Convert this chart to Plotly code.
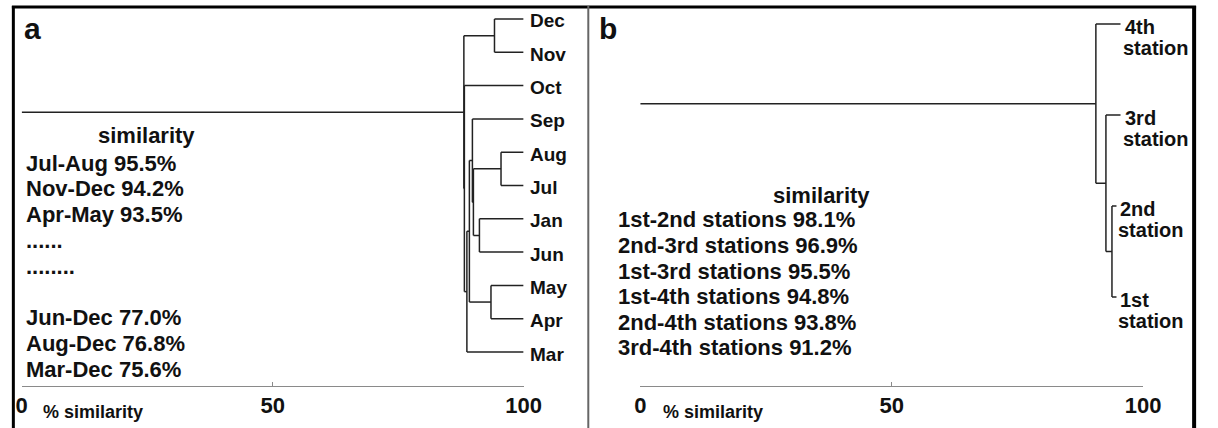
import plotly.graph_objects as go

# ---------------- data ----------------
months = ["Dec", "Nov", "Oct", "Sep", "Aug", "Jul", "Jan", "Jun", "May", "Apr", "Mar"]
# binary merges (child, child, % similarity); "mK" = result of K-th merge
month_merges = [
    ("Aug", "Jul", 95.5),   # m0
    ("Dec", "Nov", 94.2),   # m1
    ("May", "Apr", 93.5),   # m2
    ("Jan", "Jun", 91.2),   # m3
    ("m0", "m3", 90.0),     # m4
    ("Sep", "m4", 89.8),    # m5
    ("m5", "m2", 89.2),     # m6
    ("m6", "Mar", 88.7),    # m7
    ("Oct", "m7", 88.2),    # m8
    ("m1", "m8", 88.1),     # m9 (root)
]
month_leaf_end = [100.0] * len(months)

stations = ["4th station", "3rd station", "2nd station", "1st station"]
station_merges = [
    ("2nd station", "1st station", 93.8),  # m0
    ("3rd station", "m0", 92.6),           # m1
    ("4th station", "m1", 90.6),           # m2 (root)
]
station_leaf_end = [95.5, 95.5, 94.7, 94.7]

month_pairs = ["Jul-Aug", "Nov-Dec", "Apr-May", "......", "........", "", "Jun-Dec", "Aug-Dec", "Mar-Dec"]
month_pair_sim = [95.5, 94.2, 93.5, None, None, None, 77.0, 76.8, 75.6]

station_pairs = ["1st-2nd", "2nd-3rd", "1st-3rd", "1st-4th", "2nd-4th", "3rd-4th"]
station_pair_sim = [98.1, 96.9, 95.5, 94.8, 93.8, 91.2]

axis_ticks = [0, 50, 100]
panel_letters = ["a", "b"]

# ---------------- layout helpers ----------------
W, H = 1218, 428
FONT = "Arial, Liberation Sans, Helvetica, sans-serif"


def px(xp):
    return xp / W


def py(yp):
    return 1 - yp / H


def font(size):
    return dict(family=FONT, color="#111", weight="bold", size=size)


def dendro(leaves, merges, leaf_end):
    pos = {name: (float(i), leaf_end[i]) for i, name in enumerate(leaves)}
    xs, ys = [], []
    for k, (a, b, s) in enumerate(merges):
        ya, xa = pos[a]
        yb, xb = pos[b]
        xs += [xa, s, None, xb, s, None, s, s, None]
        ys += [ya, ya, None, yb, yb, None, ya, yb, None]
        pos["m%d" % k] = ((ya + yb) / 2.0, s)
    ry, rs = pos["m%d" % (len(merges) - 1)]
    xs += [0, rs, None]
    ys += [ry, ry, None]
    return xs, ys


plot_top, plot_bot = 6, 386
# panel a geometry (pixels)
a_x0, a_x1 = 16, 528
a_leaf0, a_step = 19, 33.3
# panel b geometry (pixels)
b_x0, b_x1 = 647, 1160
b_leaf0, b_step = 24, 91.0


def yrange(leaf0, step):
    return [(plot_bot - leaf0) / step, (plot_top - leaf0) / step]


fig = go.Figure()

ax, ay = dendro(months, month_merges, month_leaf_end)
fig.add_trace(go.Scatter(x=ax, y=ay, mode="lines", line=dict(color="#222", width=1.5),
                         hoverinfo="skip", showlegend=False, xaxis="x", yaxis="y",
                         cliponaxis=False))
bx, by = dendro(stations, station_merges, station_leaf_end)
fig.add_trace(go.Scatter(x=bx, y=by, mode="lines", line=dict(color="#222", width=1.5),
                         hoverinfo="skip", showlegend=False, xaxis="x2", yaxis="y2",
                         cliponaxis=False))

xaxis_common = dict(range=[0, 100], showline=True, linecolor="#8a8a8a", linewidth=1,
                    ticks="inside", ticklen=4, tickcolor="#8a8a8a", tickvals=axis_ticks,
                    ticktext=[str(t) for t in axis_ticks], tickfont=font(22),
                    showgrid=False, zeroline=False, fixedrange=True)
ydom = [py(plot_bot), py(plot_top)]

fig.update_layout(
    width=W, height=H, margin=dict(l=0, r=0, t=0, b=0),
    paper_bgcolor="white", plot_bgcolor="white",
    xaxis=dict(domain=[px(a_x0), px(a_x1)], anchor="y", **xaxis_common),
    yaxis=dict(domain=ydom, range=yrange(a_leaf0, a_step), visible=False, anchor="x"),
    xaxis2=dict(domain=[px(b_x0), px(b_x1)], anchor="y2", **xaxis_common),
    yaxis2=dict(domain=ydom, range=yrange(b_leaf0, b_step), visible=False, anchor="x2"),
    showlegend=False,
)

ann = []
# leaf labels panel a
for i, m in enumerate(months):
    ann.append(dict(x=month_leaf_end[i], y=i, xref="x", yref="y", text=m, showarrow=False,
                    xanchor="left", yanchor="middle", xshift=4, yshift=-2, font=font(19)))
# leaf labels panel b (two stacked lines)
for i, s in enumerate(stations):
    first, second = s.split(" ", 1)
    ann.append(dict(x=station_leaf_end[i], y=i, xref="x2", yref="y2", text=first, showarrow=False,
                    xanchor="left", yanchor="middle", xshift=2, yshift=-3, font=font(20)))
    ann.append(dict(x=station_leaf_end[i], y=i, xref="x2", yref="y2", text=second, showarrow=False,
                    xanchor="left", yanchor="middle", xshift=0, yshift=-24, font=font(20)))

# similarity lists
ann.append(dict(x=px(143), y=py(135), xref="paper", yref="paper", text="similarity",
                showarrow=False, xanchor="center", yanchor="middle", font=font(22)))
for k, (p, v) in enumerate(zip(month_pairs, month_pair_sim)):
    if not p:
        continue
    t = p if v is None else "%s %.1f%%" % (p, v)
    ann.append(dict(x=px(18), y=py(163 + 25.8 * k), xref="paper", yref="paper", text=t,
                    showarrow=False, xanchor="left", yanchor="middle", font=font(22)))

ann.append(dict(x=px(832), y=py(196), xref="paper", yref="paper", text="similarity",
                showarrow=False, xanchor="center", yanchor="middle", font=font(22)))
for k, (p, v) in enumerate(zip(station_pairs, station_pair_sim)):
    ann.append(dict(x=px(622), y=py(220 + 25.5 * k), xref="paper", yref="paper",
                    text="%s stations %.1f%%" % (p, v),
                    showarrow=False, xanchor="left", yanchor="middle", font=font(22)))

# axis titles
for xp in (36, 668):
    ann.append(dict(x=px(xp), y=py(412), xref="paper", yref="paper", text="% similarity",
                    showarrow=False, xanchor="left", yanchor="middle", font=font(18)))
# panel letters
for letter, xp in zip(panel_letters, (27, 614)):
    ann.append(dict(x=px(xp), y=py(28), xref="paper", yref="paper", text=letter,
                    showarrow=False, xanchor="center", yanchor="middle", font=font(30)))

fig.update_layout(annotations=ann)

# frame lines
shapes = [
    dict(type="line", xref="paper", yref="paper", x0=px(6), x1=px(1214), y0=py(7), y1=py(7),
         line=dict(color="black", width=3)),
    dict(type="line", xref="paper", yref="paper", x0=px(7.5), x1=px(7.5), y0=py(6), y1=py(428),
         line=dict(color="black", width=3)),
    dict(type="line", xref="paper", yref="paper", x0=px(1212), x1=px(1212), y0=py(6), y1=py(428),
         line=dict(color="black", width=4)),
    dict(type="line", xref="paper", yref="paper", x0=px(594), x1=px(594), y0=py(6), y1=py(428),
         line=dict(color="#666", width=2)),
]
fig.update_layout(shapes=shapes)

fig.write_html("out.html", config={"displayModeBar": False},
               post_script="document.body.style.margin='0';document.body.style.overflow='hidden';")
